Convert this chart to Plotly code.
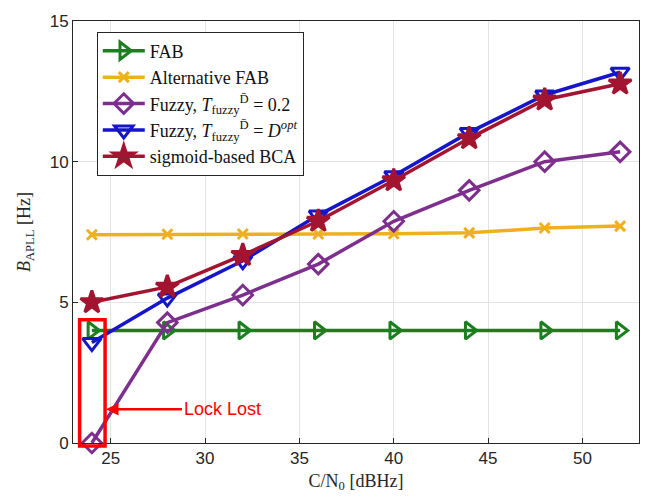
import plotly.graph_objects as go

cn0 = [24, 28, 32, 36, 40, 44, 48, 52]
fab = [4, 4, 4, 4, 4, 4, 4, 4]
alt_fab = [7.40, 7.42, 7.43, 7.43, 7.44, 7.47, 7.64, 7.71]
fuzzy_02 = [0.0, 4.28, 5.26, 6.36, 7.88, 8.98, 10.0, 10.35]
fuzzy_dopt = [3.57, 5.15, 6.48, 8.1, 9.5, 11.04, 12.37, 13.18]
sigmoid = [5.0, 5.55, 6.68, 7.89, 9.33, 10.83, 12.2, 12.77]

names = ["FAB", "Alternative FAB",
         "Fuzzy, <i>T</i><sub>fuzzy</sub><sup>D̄</sup> = 0.2",
         "Fuzzy, <i>T</i><sub>fuzzy</sub><sup>D̄</sup> = <i>D</i><sup><i>opt</i></sup>",
         "sigmoid-based BCA"]
series = [fab, alt_fab, fuzzy_02, fuzzy_dopt, sigmoid]
colors = ["#1B7F1F", "#EDB120", "#7E2F8E", "#1515CC", "#A2142F"]
symbols = ["triangle-right-open", "x-thin-open", "diamond-open", "triangle-down-open", "star"]
sizes = [15, 10, 15, 16, 17]

fig = go.Figure()
for n, ys, c, s, sz in zip(names, series, colors, symbols, sizes):
    fig.add_trace(go.Scatter(
        x=cn0, y=ys, name=n, mode="lines+markers",
        line=dict(color=c, width=3.5),
        marker=dict(symbol=s, size=sz, color=c, line=dict(color=c, width=3)),
        cliponaxis=False))

# Lock lost rectangle
fig.add_shape(type="rect", xref="x", yref="paper", x0=23.35, x1=24.7,
              y0=-0.007, y1=0.292, line=dict(color="#FF0000", width=3.5),
              fillcolor="rgba(0,0,0,0)")
fig.add_annotation(x=24.75, y=1.2, xref="x", yref="y", ax=76, ay=0,
                   text="Lock Lost", showarrow=True, arrowhead=2, arrowsize=1,
                   arrowwidth=2.5, arrowcolor="#FF0000", xanchor="left",
                   font=dict(family="Liberation Sans, Arial", size=18, color="#FF0000"),
                   standoff=0)

axis_common = dict(showgrid=True, gridcolor="#E3E3E3", gridwidth=1,
                   showline=True, linecolor="#262626", linewidth=1, mirror=True,
                   ticks="inside", ticklen=5, tickcolor="#262626",
                   tickfont=dict(family="Liberation Sans, Arial", size=17, color="#262626"),
                   zeroline=False)

fig.update_layout(
    width=663, height=499,
    margin=dict(l=73, r=24, t=15, b=56),
    paper_bgcolor="white", plot_bgcolor="white",
    xaxis=dict(range=[23, 53], tickvals=[25, 30, 35, 40, 45, 50],
               title=dict(text="C/N<sub>0</sub> [dBHz]", standoff=6,
                          font=dict(family="Liberation Serif, serif", size=18, color="#262626")),
               **axis_common),
    yaxis=dict(range=[0, 15], tickvals=[0, 5, 10, 15],
               title=dict(text="<i>B</i><sub>APLL</sub> [Hz]", standoff=14,
                          font=dict(family="Liberation Serif, serif", size=18, color="#262626")),
               **axis_common),
    legend=dict(x=0.042, y=0.975, xanchor="left", yanchor="top",
                bgcolor="white", bordercolor="#262626", borderwidth=1,
                font=dict(family="Liberation Serif, serif", size=18, color="#111111"),
                itemwidth=42, tracegroupgap=0),
    showlegend=True,
)

fig.write_html("out.html")
